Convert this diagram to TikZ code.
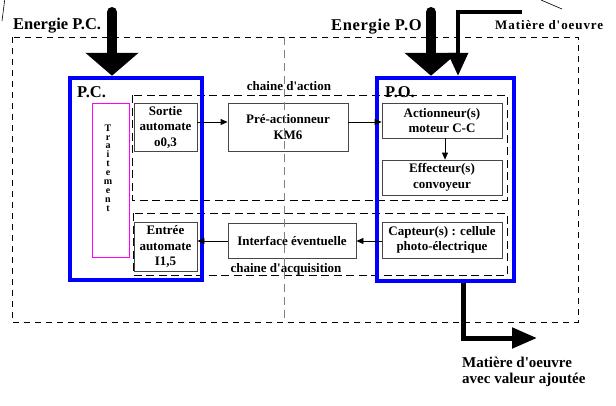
\documentclass[tikz,border=0pt]{standalone}
\usepackage{fontspec}
\setmainfont{Liberation Serif}[Ligatures=TeXOff]
\usetikzlibrary{arrows.meta}

\definecolor{pureblue}{RGB}{0,0,255}
\definecolor{pink}{RGB}{255,0,255}
\definecolor{boxline}{RGB}{70,70,70}

\tikzset{
  big/.style={font=\fontsize{16.5}{18}\selectfont\bfseries, inner sep=0pt},
  lbl/.style={font=\fontsize{13}{15.5}\selectfont\bfseries, inner sep=0pt},
  blk/.style={draw=boxline, line width=0.8pt, align=center, inner sep=0pt,
              font=\fontsize{13}{15.5}\selectfont\bfseries},
  partbox/.style={draw=pureblue, line width=4.5pt, inner sep=0pt},
  frame/.style={dashed, dash pattern=on 6pt off 5pt, line width=0.7pt},
  chain/.style={dashed, dash pattern=on 8pt off 4.5pt, line width=0.8pt},
  arr/.style={line width=0.8pt, -{Triangle[length=7pt,width=6pt]}},
  fatarrow/.style={line width=10pt, line cap=round, -{Triangle[length=23pt,width=52pt]}},
  feedarrow/.style={line width=3.5pt, -{Triangle[length=23pt,width=20pt]}},
  outarrow/.style={line width=5pt, -{Triangle[length=25pt,width=20pt]}},
}

\begin{document}
\begin{tikzpicture}[x=1pt, y=-1pt]
\useasboundingbox (0,0) rectangle (616,405);

% fragments of lines cut by the page edge
\draw[line width=0.6pt] (4.7,0) -- (2,21);
\draw[line width=0.6pt] (541,0) -- (562,9);

% outer frame and the two chains
\draw[frame] (12,37) rectangle (578,322);
\draw[chain] (132,95) rectangle (507,200);
\draw[chain] (133,213) rectangle (507,275);

% command part and operative part
\node[partbox, minimum width=132pt, minimum height=202pt] (pc) at (136,179) {};
\node[partbox, minimum width=137pt, minimum height=203pt] (po) at (445.5,179.5) {};
\node[big, anchor=base west] (pclbl) at (77,97) {P.C.};
\node[big, anchor=base west] (polbl) at (385,97) {P.O.};

% processing column
\node[draw=pink, line width=0.8pt, minimum width=37pt, minimum height=154pt, inner sep=0pt] (trt) at (110.5,180) {};
\node[align=center, inner sep=0pt, font=\fontsize{10}{8.9}\selectfont\bfseries] (trttxt) at (108,168)
  {T\\r\\a\\i\\t\\e\\m\\e\\n\\t};

% blocks of the action chain
\node[blk, minimum width=63pt, minimum height=48pt] (sortie) at (165.5,127) {Sortie\\automate\\o0,3};
\node[blk, minimum width=120pt, minimum height=48pt] (preact) at (288,127) {Pré-actionneur\\KM6};
\node[blk, minimum width=120pt, minimum height=35pt] (act) at (442,120.5) {Actionneur(s)\\moteur C-C};
\node[blk, minimum width=120pt, minimum height=35pt] (eff) at (442,177.5) {Effecteur(s)\\convoyeur};

% blocks of the acquisition chain
\node[blk, minimum width=120pt, minimum height=36pt] (capt) at (442,240) {Capteur(s) : cellule\\photo-électrique};
\node[blk, minimum width=128pt, minimum height=35pt] (intf) at (292,240.5) {Interface éventuelle};
\node[blk, minimum width=63pt, minimum height=49pt] (entree) at (165.5,246.5) {Entrée\\automate\\I1,5};

% signal flow
\draw[arr] ([yshift=5pt]sortie.east) -- ([yshift=5pt]preact.west);
\draw[arr] ([yshift=5pt]preact.east) -- ([yshift=5pt]preact.east -| act.west);
\draw[arr] (act.south -| 445,0) -- (eff.north -| 445,0);
\draw[arr] ([yshift=-1pt]capt.west) -- ([yshift=-1pt]capt.west -| intf.east);
\draw[arr] ([yshift=-0.5pt]intf.west) -- ([yshift=-0.5pt]intf.west -| entree.east);

% chain labels
\node[lbl] (actlbl) at (289,86) {chaine d'action};
\node[lbl, anchor=base] (acqlbl) at (286,272) {chaine d'acquisition};

% energy and material flows
\node[big, anchor=base west] (epclbl) at (13,29) {Energie P.C.};
\node[big, anchor=base west, font=\fontsize{16.5}{18}\selectfont\bfseries\addfontfeature{LetterSpace=4}] (epolbl) at (331,30) {Energie P.O};
\node[lbl, anchor=base west, font=\fontsize{13}{15.5}\selectfont\bfseries\addfontfeature{LetterSpace=7}] (mlbl) at (495,29.5) {Matière d'oeuvre};

\coordinate (epc) at (112,12);
\coordinate (epo) at (431,12);
\coordinate (min) at (522,12);
\coordinate (mout) at (537,338);

\draw[fatarrow] (epc) -- (pc.north -| epc);
\draw[fatarrow] (epo) -- (po.north -| epo);
\draw[feedarrow] (min) -| (po.north -| 458,0);
\draw[outarrow] (po.south -| 463,0) |- (mout);

\node[anchor=base west, align=left, inner sep=0pt, font=\fontsize{15}{16}\selectfont\bfseries] (outlbl) at (462,383)
  {Matière d'oeuvre\\avec valeur ajoutée};

% axis line drawn over the whole set
\draw[gray, dashed, dash pattern=on 8pt off 5pt, line width=0.9pt] (284,37) -- (284,322);
\end{tikzpicture}
\end{document}
